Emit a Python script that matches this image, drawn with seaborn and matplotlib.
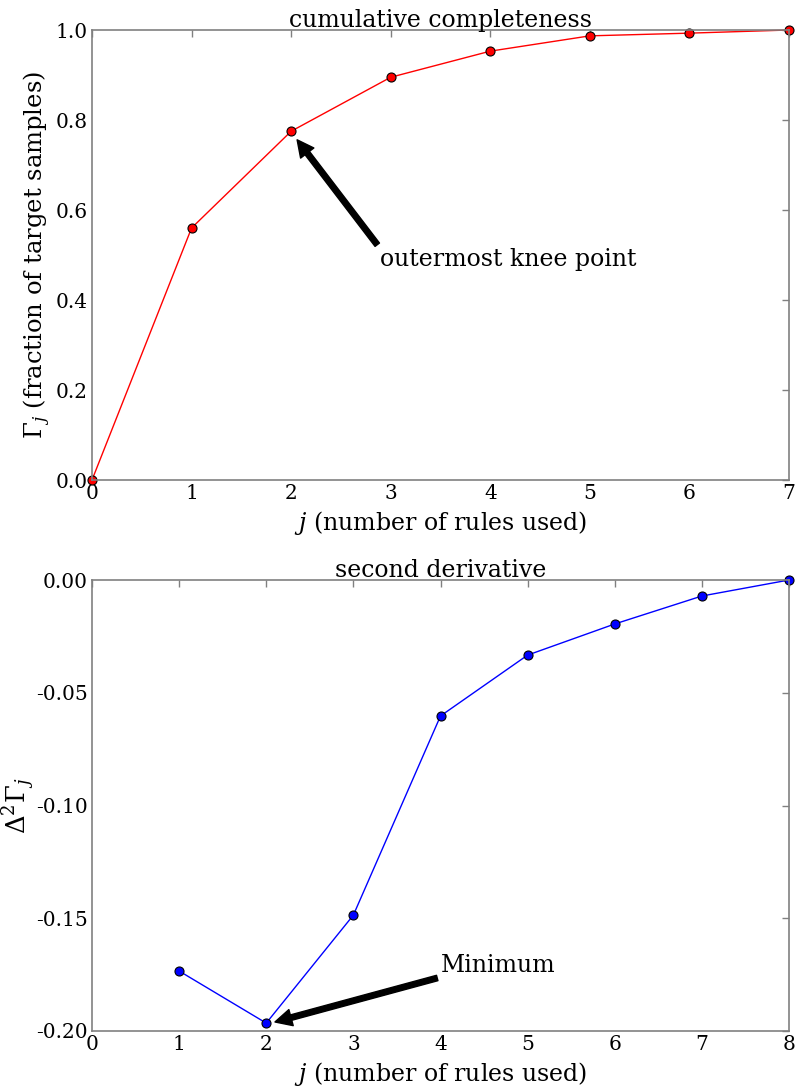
import matplotlib
matplotlib.use("Agg")
import matplotlib.pyplot as plt
import seaborn as sns
import pandas as pd
from matplotlib.ticker import FormatStrFormatter

# data
j_top = [0, 1, 2, 3, 4, 5, 6, 7]
gamma = [0.0, 0.56, 0.775, 0.895, 0.953, 0.987, 0.993, 1.0]
j_bot = [1, 2, 3, 4, 5, 6, 7, 8]
d2gamma = [-0.1734, -0.1965, -0.1486, -0.0603, -0.0333, -0.0195, -0.0071, 0.0]

sns.set_style("white")
plt.rcParams["font.family"] = ["DejaVu Serif"]
plt.rcParams["mathtext.fontset"] = "dejavuserif"
plt.rcParams["axes.unicode_minus"] = False
plt.rcParams["text.color"] = "black"
plt.rcParams["axes.labelcolor"] = "black"
plt.rcParams["xtick.color"] = "black"
plt.rcParams["ytick.color"] = "black"

FS = 14.5
LFS = 17
fig = plt.figure(figsize=(7.99, 10.89), dpi=100)
W, H = 799, 1089
ax1 = fig.add_axes([92 / W, 1 - 480 / H, 697 / W, 450 / H])
ax2 = fig.add_axes([92 / W, 1 - 1031 / H, 697 / W, 451 / H])

df1 = pd.DataFrame({"j": j_top, "g": gamma})
df2 = pd.DataFrame({"j": j_bot, "g": d2gamma})

sns.lineplot(data=df1, x="j", y="g", ax=ax1, color="red", marker="o",
             markersize=6.5, markeredgecolor="black", markeredgewidth=0.8,
             linewidth=1, clip_on=False)
sns.lineplot(data=df2, x="j", y="g", ax=ax2, color="blue", marker="o",
             markersize=6.5, markeredgecolor="black", markeredgewidth=0.8,
             linewidth=1, clip_on=False)

for ax in (ax1, ax2):
    for s in ax.spines.values():
        s.set_color("#808080")
        s.set_linewidth(1.2)
    ax.tick_params(axis="both", which="both", direction="in", top=True,
                   right=True, length=5, width=1, color="#808080",
                   labelcolor="black", labelsize=FS, pad=3)
    ax.set_xlabel(r"$j$ (number of rules used)", fontsize=LFS, labelpad=4)

ax1.set_xlim(0, 7)
ax1.set_ylim(0, 1)
ax1.set_xticks(range(0, 8))
ax1.set_yticks([0.0, 0.2, 0.4, 0.6, 0.8, 1.0])
ax1.yaxis.set_major_formatter(FormatStrFormatter("%.1f"))
ax1.set_ylabel(r"$\Gamma_j$ (fraction of target samples)", fontsize=LFS + 0.5)
ax1.yaxis.set_label_coords(-0.056, 0.5)
ax1.set_title("cumulative completeness", fontsize=LFS, pad=2)
ax1.annotate("outermost knee point", xy=(2.06, 0.756), xytext=(2.89, 0.49),
             fontsize=LFS, va="center", ha="left",
             arrowprops=dict(facecolor="black", edgecolor="black", width=4,
                             headwidth=12, headlength=12, shrink=0.0))

ax2.set_xlim(0, 8)
ax2.set_ylim(-0.2, 0.0)
ax2.set_xticks(range(0, 9))
ax2.set_yticks([-0.20, -0.15, -0.10, -0.05, 0.00])
ax2.yaxis.set_major_formatter(FormatStrFormatter("%.2f"))
ax2.set_ylabel(r"$\Delta^2\Gamma_j$", fontsize=LFS + 1.5)
ax2.yaxis.set_label_coords(-0.0775, 0.5)
ax2.set_title("second derivative", fontsize=LFS, pad=2)
ax2.annotate("Minimum", xy=(2.10, -0.196), xytext=(4.0, -0.171),
             fontsize=LFS, va="center", ha="left",
             arrowprops=dict(facecolor="black", edgecolor="black", width=4,
                             headwidth=12, headlength=12, shrink=0.0))

fig.savefig("out.png", dpi=100)
